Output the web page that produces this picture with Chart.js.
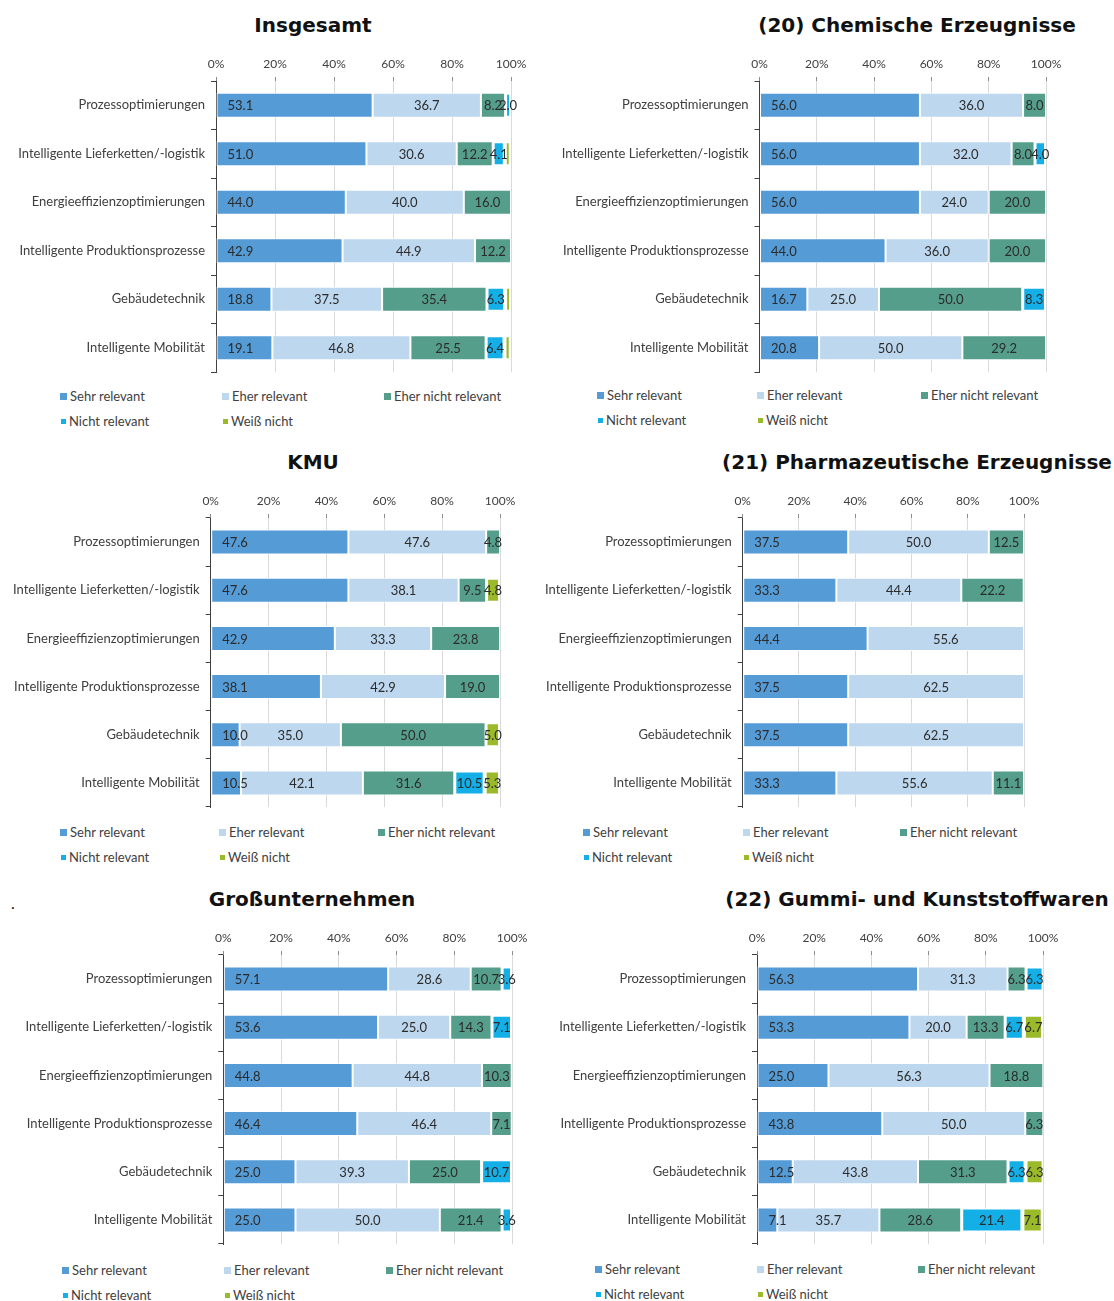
<!DOCTYPE html>
<html lang="de">
<head>
<meta charset="utf-8">
<title>Relevanz digitaler Anwendungen</title>
<script src="https://cdn.jsdelivr.net/npm/chart.js@4.4.1/dist/chart.umd.min.js"></script>
<style>
  html, body { margin: 0; padding: 0; background: #fff; }
  body { width: 1114px; height: 1301px; position: relative; overflow: hidden; font-family: Lato, "Open Sans", sans-serif; }
  .title { position: absolute; transform: translateX(-50%); white-space: nowrap; font-family: "DejaVu Sans", sans-serif; font-weight: bold; font-size: 20px; line-height: 24px; color: #111; }
  .wrap { position: absolute; }
  .leg { position: absolute; font-size: 13px; color: #404040; white-space: nowrap; line-height: 16px; }
  .leg i { display: inline-block; vertical-align: middle; margin-right: 3px; margin-top: -2px; }
  .dot { position: absolute; left: 11px; top: 893px; font-size: 16px; color: #111; }
</style>
</head>
<body>
<span class="dot">.</span>
<script>
// categories and series
const categories = [
  'Prozessoptimierungen',
  'Intelligente Lieferketten/-logistik',
  'Energieeffizienzoptimierungen',
  'Intelligente Produktionsprozesse',
  'Gebäudetechnik',
  'Intelligente Mobilität'
];
const seriesNames = ['Sehr relevant', 'Eher relevant', 'Eher nicht relevant', 'Nicht relevant', 'Weiß nicht'];
const seriesColors = ['#559bd6', '#bdd7ee', '#559e8b', '#14afe6', '#9bba2a'];
const xTicks = ['0%', '20%', '40%', '60%', '80%', '100%'];

// one row per series, one value per category (in %)
const insgesamt = [
  [53.1, 51.0, 44.0, 42.9, 18.8, 19.1],
  [36.7, 30.6, 40.0, 44.9, 37.5, 46.8],
  [8.2, 12.2, 16.0, 12.2, 35.4, 25.5],
  [2.0, 4.1, 0, 0, 6.3, 6.4],
  [0, 2.0, 0, 0, 2.0, 2.1]
];
const chemie = [
  [56.0, 56.0, 56.0, 44.0, 16.7, 20.8],
  [36.0, 32.0, 24.0, 36.0, 25.0, 50.0],
  [8.0, 8.0, 20.0, 20.0, 50.0, 29.2],
  [0, 4.0, 0, 0, 8.3, 0],
  [0, 0, 0, 0, 0, 0]
];
const kmu = [
  [47.6, 47.6, 42.9, 38.1, 10.0, 10.5],
  [47.6, 38.1, 33.3, 42.9, 35.0, 42.1],
  [4.8, 9.5, 23.8, 19.0, 50.0, 31.6],
  [0, 0, 0, 0, 0, 10.5],
  [0, 4.8, 0, 0, 5.0, 5.3]
];
const pharma = [
  [37.5, 33.3, 44.4, 37.5, 37.5, 33.3],
  [50.0, 44.4, 55.6, 62.5, 62.5, 55.6],
  [12.5, 22.2, 0, 0, 0, 11.1],
  [0, 0, 0, 0, 0, 0],
  [0, 0, 0, 0, 0, 0]
];
const gross = [
  [57.1, 53.6, 44.8, 46.4, 25.0, 25.0],
  [28.6, 25.0, 44.8, 46.4, 39.3, 50.0],
  [10.7, 14.3, 10.3, 7.1, 25.0, 21.4],
  [3.6, 7.1, 0, 0, 10.7, 3.6],
  [0, 0, 0, 0, 0, 0]
];
const gummi = [
  [56.3, 53.3, 25.0, 43.8, 12.5, 7.1],
  [31.3, 20.0, 56.3, 50.0, 43.8, 35.7],
  [6.3, 13.3, 18.8, 6.3, 31.3, 28.6],
  [6.3, 6.7, 0, 0, 6.3, 21.4],
  [0, 6.7, 0, 0, 6.3, 7.1]
];

// panel placement on the page
const panels = [
  { title: 'Insgesamt', data: insgesamt, tx: 313, ty: 13, left: 0, axisL: 216, axisR: 511, top: 80.6, bottom: 371.2, legX: [60, 222, 384], legY: [396, 421] },
  { title: '(20) Chemische Erzeugnisse', data: chemie, tx: 917, ty: 13, left: 530, axisL: 759.5, axisR: 1046, top: 80.6, bottom: 371.2, legX: [597, 757, 921], legY: [395, 420] },
  { title: 'KMU', data: kmu, tx: 313, ty: 450, left: 0, axisL: 210.7, axisR: 500, top: 518.2, bottom: 807.1, legX: [60, 219, 378], legY: [832, 857] },
  { title: '(21) Pharmazeutische Erzeugnisse', data: pharma, tx: 917, ty: 450, left: 530, axisL: 742.7, axisR: 1024.3, top: 518.2, bottom: 807.1, legX: [583, 743, 900], legY: [832, 857] },
  { title: 'Großunternehmen', data: gross, tx: 312, ty: 887, left: 0, axisL: 223.3, axisR: 512, top: 955.1, bottom: 1244.1, legX: [62, 224, 386], legY: [1270, 1295] },
  { title: '(22) Gummi- und Kunststoffwaren', data: gummi, tx: 917, ty: 887, left: 530, axisL: 757, axisR: 1042.5, top: 955.1, bottom: 1244.1, legX: [595, 757, 918], legY: [1269, 1294] }
];

const X_AXIS_H = 28;
const PAD_R = 24;

// value labels inside the segments
const segmentLabels = {
  id: 'segmentLabels',
  afterDatasetsDraw(chart) {
    const ctx = chart.ctx;
    ctx.save();
    ctx.font = '13px Lato, "Open Sans", sans-serif';
    ctx.fillStyle = '#2b2b2b';
    ctx.textBaseline = 'middle';
    chart.data.datasets.forEach((ds, di) => {
      const meta = chart.getDatasetMeta(di);
      meta.data.forEach((bar, i) => {
        const v = ds.data[i];
        if (!v) return;
        if (di === 4 && v < 3) return;
        const txt = v.toFixed(1);
        if (di === 0) {
          ctx.textAlign = 'left';
          ctx.fillText(txt, bar.base + 11, bar.y + 1);
        } else {
          ctx.textAlign = 'center';
          ctx.fillText(txt, (bar.x + bar.base) / 2, bar.y + 1);
        }
      });
    });
    ctx.restore();
  }
};

Chart.defaults.font.family = 'Lato, "Open Sans", sans-serif';
Chart.defaults.color = '#404040';
Chart.defaults.animation = false;

panels.forEach(p => {
  const t = document.createElement('div');
  t.className = 'title';
  t.textContent = p.title;
  t.style.left = p.tx + 'px';
  t.style.top = p.ty + 'px';
  document.body.appendChild(t);

  const w = Math.round(p.axisR + PAD_R - p.left);
  const h = Math.round(p.bottom - p.top + X_AXIS_H + 2);
  const wrap = document.createElement('div');
  wrap.className = 'wrap';
  wrap.style.left = p.left + 'px';
  wrap.style.top = (p.top - X_AXIS_H) + 'px';
  wrap.style.width = w + 'px';
  wrap.style.height = h + 'px';
  const canvas = document.createElement('canvas');
  wrap.appendChild(canvas);
  document.body.appendChild(wrap);

  const yWidth = p.axisL - p.left;
  new Chart(canvas, {
    type: 'bar',
    data: {
      labels: categories,
      datasets: seriesNames.map((name, si) => ({
        label: name,
        data: p.data[si],
        backgroundColor: seriesColors[si],
        borderColor: '#ffffff',
        borderWidth: si < 3 ? 1 : 2,
        borderSkipped: false,
        barPercentage: 0.52,
        categoryPercentage: 1
      }))
    },
    options: {
      indexAxis: 'y',
      responsive: true,
      maintainAspectRatio: false,
      layout: { padding: { left: 0, right: PAD_R, top: 0, bottom: 2 } },
      plugins: {
        legend: { display: false },
        tooltip: { enabled: false }
      },
      scales: {
        x: {
          position: 'top',
          stacked: true,
          min: 0,
          max: 100,
          afterFit: s => { s.height = X_AXIS_H; },
          ticks: {
            stepSize: 20,
            padding: 6,
            font: { size: 12 },
            callback: (v, i) => xTicks[i]
          },
          grid: { color: '#d9d9d9', tickColor: '#8c8c8c', tickLength: 4 },
          border: { display: false }
        },
        y: {
          stacked: true,
          // fixed axis width, and no extra room above/below for the label text
          afterFit: s => { s.width = yWidth; s.paddingTop = 0; s.paddingBottom = 0; },
          ticks: { padding: 6, font: { size: 13 } },
          grid: { drawOnChartArea: false, tickLength: 5, tickColor: '#404040', offset: true },
          border: { color: '#404040', width: 1 }
        }
      }
    },
    plugins: [segmentLabels]
  });

  // legend in two rows of three columns
  seriesNames.forEach((name, si) => {
    const item = document.createElement('div');
    item.className = 'leg';
    const row = si < 3 ? 0 : 1;
    const col = si % 3;
    item.style.left = p.legX[col] + 'px';
    item.style.top = (p.legY[row] - 8) + 'px';
    const sq = document.createElement('i');
    const size = si < 3 ? 7 : 5;
    sq.style.width = size + 'px';
    sq.style.height = size + 'px';
    sq.style.background = seriesColors[si];
    if (si >= 3) sq.style.marginLeft = '1px';
    item.appendChild(sq);
    item.appendChild(document.createTextNode(name));
    document.body.appendChild(item);
  });
});
</script>
</body>
</html>
